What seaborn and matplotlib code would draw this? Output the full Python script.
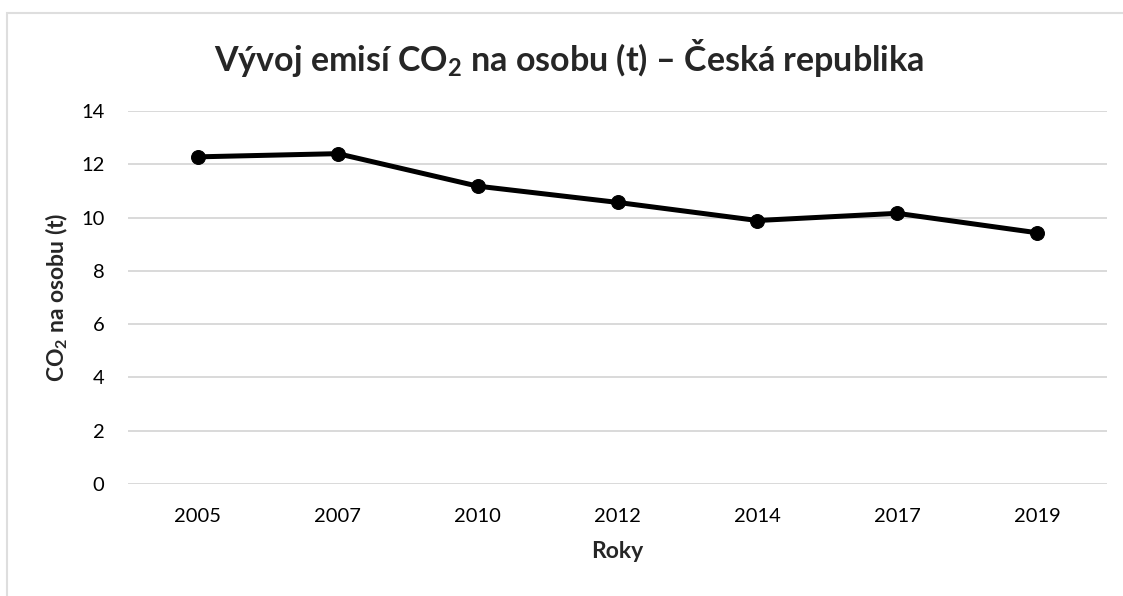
import matplotlib
matplotlib.use("Agg")
import matplotlib.pyplot as plt
import seaborn as sns
import pandas as pd
from matplotlib.patches import Rectangle

# data
roky = ["2005", "2007", "2010", "2012", "2014", "2017", "2019"]
emise = [12.28, 12.40, 11.18, 10.57, 9.89, 10.16, 9.43]
yticks = [0, 2, 4, 6, 8, 10, 12, 14]

df = pd.DataFrame({"rok": roky, "co2": emise})

sns.set_theme(style="white")
plt.rcParams["font.family"] = ["Lato", "DejaVu Sans"]
plt.rcParams["mathtext.fontset"] = "custom"
plt.rcParams["mathtext.rm"] = "Lato"
plt.rcParams["mathtext.bf"] = "Lato:bold"

fig = plt.figure(figsize=(11.23, 5.96), dpi=100)
ax = fig.add_axes([0.114, 0.188, 0.8718, 0.6257])

# outer chart border like in Excel (top + left visible)
fig.patches.append(Rectangle((6.5 / 1123, -0.02), 1.2, 1 - 13 / 596 + 0.02,
                             transform=fig.transFigure, fill=False,
                             edgecolor="#dedede", linewidth=1.5))

sns.lineplot(data=df, x="rok", y="co2", ax=ax, color="black", linewidth=3.6,
             marker="o", markersize=10, markeredgecolor="black", sort=False)

ax.set_xlim(-0.5, len(roky) - 0.5)
ax.set_ylim(0, 14)
ax.set_yticks(yticks)
ax.grid(axis="y", color="#d9d9d9", linewidth=1.4)
ax.set_axisbelow(True)
for s in ax.spines.values():
    s.set_visible(False)
ax.tick_params(axis="both", length=0, labelsize=14.5, colors="black")
ax.tick_params(axis="x", pad=17)
ax.tick_params(axis="y", pad=17)

ax.set_xlabel("Roky", fontsize=16.5, fontweight="bold", labelpad=12)
ax.set_ylabel(r"CO$_\mathbf{2}$ na osobu (t)", fontsize=16.5, fontweight="bold", labelpad=8)
fig.text(0.507, 0.903, r"Vývoj emisí CO$_\mathbf{2}$ na osobu (t) – Česká republika",
         ha="center", va="center", fontsize=24.5, fontweight="bold")

fig.savefig("out.png", dpi=100)
